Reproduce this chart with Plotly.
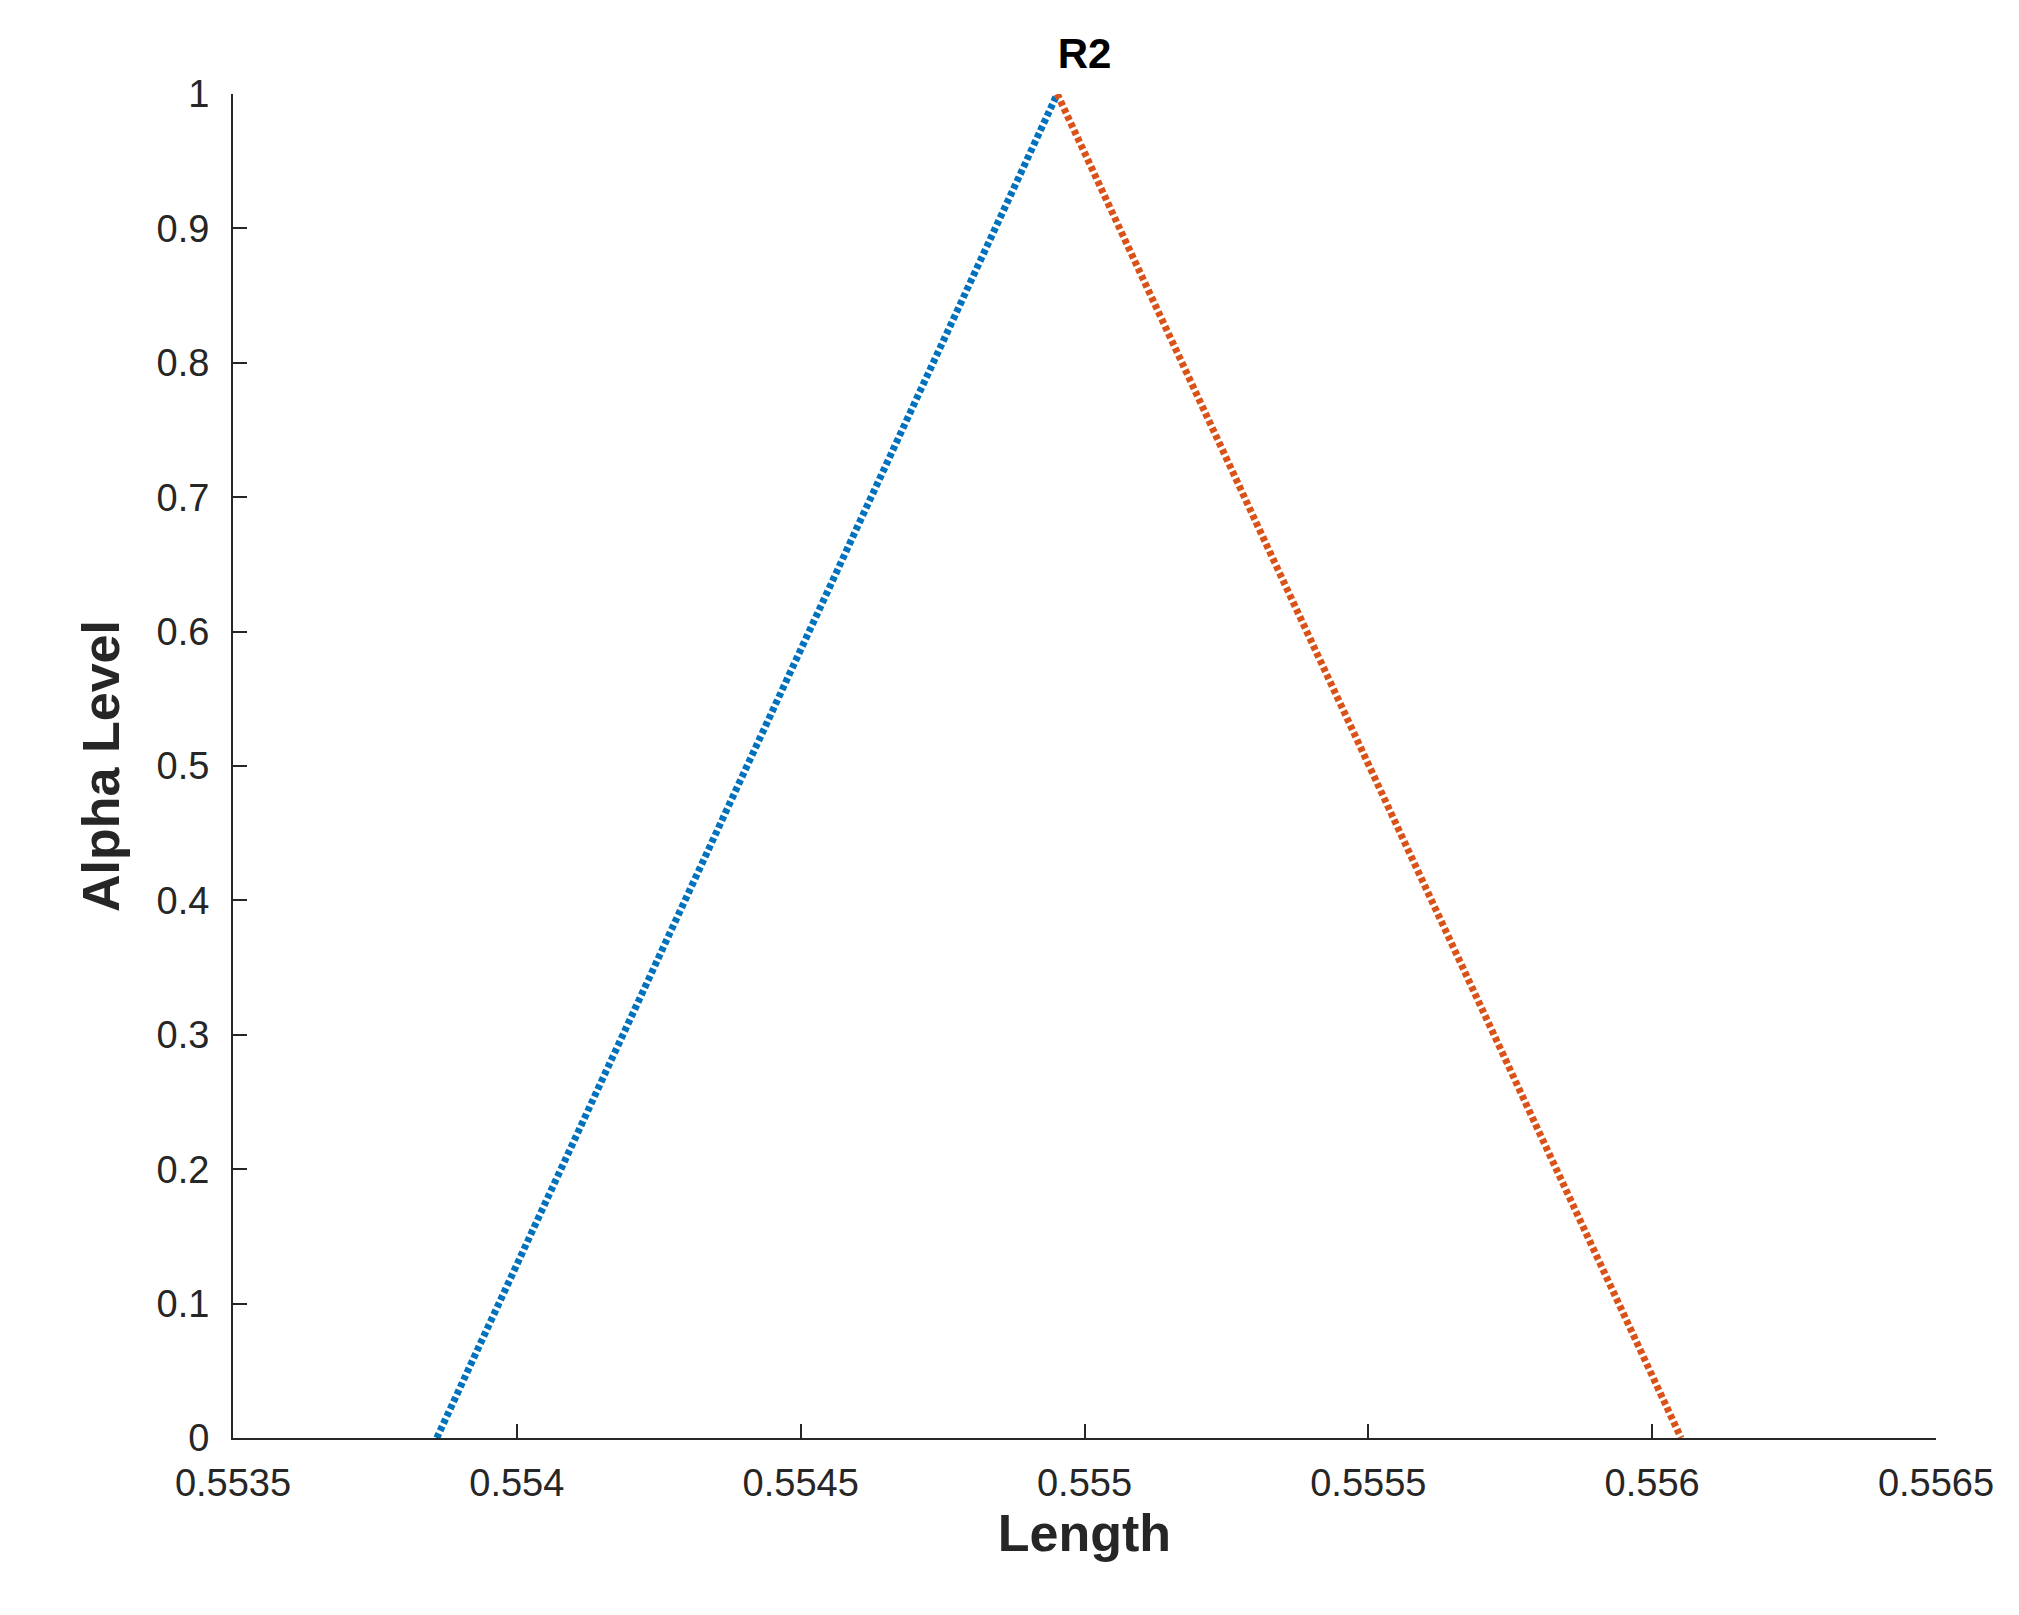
import plotly.graph_objects as go

left_x = [0.553859, 0.554952]
left_alpha = [0.0, 1.0]
right_x = [0.554952, 0.556051]
right_alpha = [1.0, 0.0]
x_ticks = [0.5535, 0.554, 0.5545, 0.555, 0.5555, 0.556, 0.5565]
x_tick_labels = ["0.5535", "0.554", "0.5545", "0.555", "0.5555", "0.556", "0.5565"]
y_ticks = [0, 0.1, 0.2, 0.3, 0.4, 0.5, 0.6, 0.7, 0.8, 0.9, 1]
y_tick_labels = ["0", "0.1", "0.2", "0.3", "0.4", "0.5", "0.6", "0.7", "0.8", "0.9", "1"]

fig = go.Figure()
fig.add_trace(go.Scatter(x=left_x, y=left_alpha, mode="lines",
                         line=dict(color="#0072BD", width=7, dash="5px,3px"), showlegend=False))
fig.add_trace(go.Scatter(x=right_x, y=right_alpha, mode="lines",
                         line=dict(color="#D95319", width=7, dash="5px,3px"), showlegend=False))

font = dict(family="Liberation Sans, Arial", size=38, color="#262626")
fig.update_layout(
    width=2019, height=1615, plot_bgcolor="white", paper_bgcolor="white",
    margin=dict(l=225, r=91, t=86, b=185),
    font=font,
    title=dict(text="<b>R2</b>", x=(225 + 1703 / 2) / 2019, xanchor="center", y=1 - 45 / 1615, yanchor="middle",
               font=dict(family="Liberation Sans, Arial", size=42, color="black")),
    xaxis=dict(range=[0.5535, 0.5565], tickvals=x_ticks, ticktext=x_tick_labels,
               showgrid=False, zeroline=False, showline=True, linecolor="#262626", linewidth=2,
               ticks="inside", ticklen=14, tickwidth=2, tickcolor="#262626", ticklabelstandoff=10,
               title=dict(text="<b>Length</b>", font=dict(size=52, family="Liberation Sans, Arial", color="#262626"), standoff=12)),
    yaxis=dict(range=[0, 1], tickvals=y_ticks, ticktext=y_tick_labels,
               showgrid=False, zeroline=False, showline=True, linecolor="#262626", linewidth=2,
               ticks="inside", ticklen=14, tickwidth=2, tickcolor="#262626", ticklabelstandoff=14,
               title=dict(text="<b>Alpha Level</b>", font=dict(size=52, family="Liberation Sans, Arial", color="#262626"), standoff=20)),
)
fig.write_html("out.html")
